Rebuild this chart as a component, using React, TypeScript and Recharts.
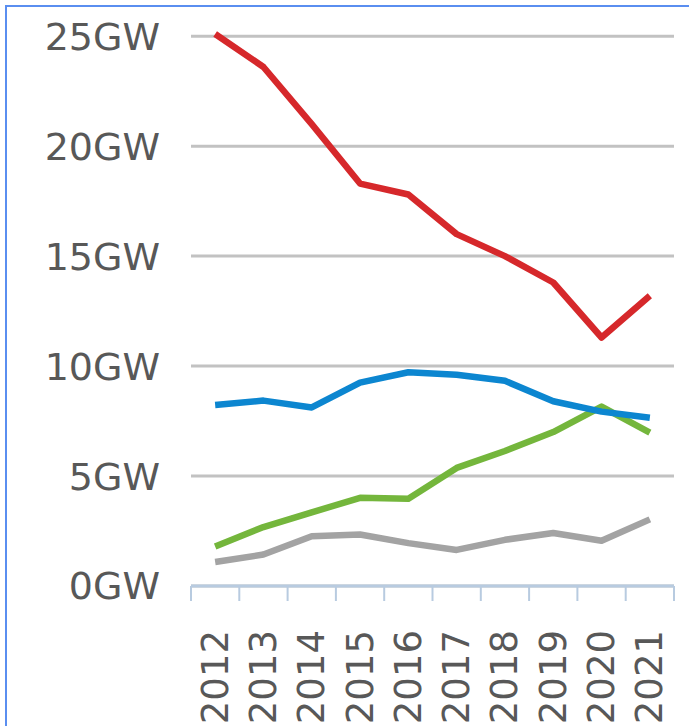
import { LineChart, Line, XAxis, YAxis, CartesianGrid } from 'recharts'

const years = ['2012', '2013', '2014', '2015', '2016', '2017', '2018', '2019', '2020', '2021']
const redSeries = [25.1, 23.6, 21.0, 18.3, 17.8, 16.0, 15.0, 13.8, 11.3, 13.2]
const blueSeries = [8.23, 8.43, 8.12, 9.25, 9.72, 9.61, 9.33, 8.4, 7.93, 7.65]
const greenSeries = [1.8, 2.68, 3.35, 4.01, 3.97, 5.37, 6.14, 7.0, 8.16, 6.97]
const graySeries = [1.09, 1.43, 2.26, 2.34, 1.95, 1.64, 2.1, 2.41, 2.06, 3.03]
const yTicks = [0, 5, 10, 15, 20, 25]
const boundaryTicks = [-0.5, 0.5, 1.5, 2.5, 3.5, 4.5, 5.5, 6.5, 7.5, 8.5, 9.5]
const labelTicks = years.map((_, i) => i)

const data = years.map((year, i) => ({
  idx: i,
  year,
  red: redSeries[i],
  blue: blueSeries[i],
  green: greenSeries[i],
  gray: graySeries[i],
}))

const FONT = '"DejaVu Sans", Verdana, sans-serif'
const LABEL = '#585858'

function YearTick({ x, y, payload }: { x?: number; y?: number; payload?: { value: number } }) {
  if (x == null || y == null || !payload) return null
  return (
    <text
      x={x}
      y={y}
      transform={`rotate(-90 ${x} ${y})`}
      textAnchor="end"
      dominantBaseline="central"
      fill={LABEL}
      fontSize={37}
      fontFamily={FONT}
    >
      {years[payload.value]}
    </text>
  )
}

export default function App() {
  return (
    <div style={{ position: 'absolute', left: 0, top: 0, width: 689, height: 726, background: '#fff', overflow: 'hidden' }}>
      <div
        style={{
          position: 'absolute',
          left: 5,
          top: 5,
          right: 0,
          bottom: 0,
          borderLeft: '2px solid #5a8ef0',
          borderTop: '2px solid #5a8ef0',
        }}
      />
      <div style={{ position: 'absolute', left: 0, top: 0 }}>
        <LineChart width={689} height={726} data={data} margin={{ top: 34, right: 15, left: 0, bottom: 0 }}>
          <CartesianGrid vertical={false} horizontalValues={yTicks} stroke="#c2c2c2" strokeWidth={3} />
          <XAxis
            xAxisId="a_marks"
            type="number"
            dataKey="idx"
            domain={[-0.5, 9.5]}
            ticks={boundaryTicks}
            tickFormatter={() => ''}
            tickSize={15}
            height={20}
            axisLine={{ stroke: '#b8cbe0', strokeWidth: 3 }}
            tickLine={{ stroke: '#b8cbe0', strokeWidth: 2 }}
          />
          <XAxis
            xAxisId="b_labels"
            type="number"
            dataKey="idx"
            domain={[-0.5, 9.5]}
            ticks={labelTicks}
            tick={<YearTick />}
            tickSize={0}
            tickMargin={24}
            height={120}
            axisLine={false}
            tickLine={false}
            interval={0}
          />
          <YAxis
            domain={[0, 25]}
            ticks={yTicks}
            tickFormatter={(v: number) => `${v}GW`}
            width={191}
            tickSize={0}
            tickMargin={31}
            axisLine={false}
            tickLine={false}
            tick={{ fill: LABEL, fontSize: 38, fontFamily: FONT }}
          />
          <Line xAxisId="b_labels" type="linear" dataKey="gray" stroke="#a3a3a3" strokeWidth={6.5} dot={false} strokeLinejoin="round" isAnimationActive={false} />
          <Line xAxisId="b_labels" type="linear" dataKey="green" stroke="#74b63c" strokeWidth={6.5} dot={false} strokeLinejoin="round" isAnimationActive={false} />
          <Line xAxisId="b_labels" type="linear" dataKey="blue" stroke="#0c86d0" strokeWidth={6.5} dot={false} strokeLinejoin="round" isAnimationActive={false} />
          <Line xAxisId="b_labels" type="linear" dataKey="red" stroke="#d6282b" strokeWidth={6.5} dot={false} strokeLinejoin="round" isAnimationActive={false} />
        </LineChart>
      </div>
    </div>
  )
}
